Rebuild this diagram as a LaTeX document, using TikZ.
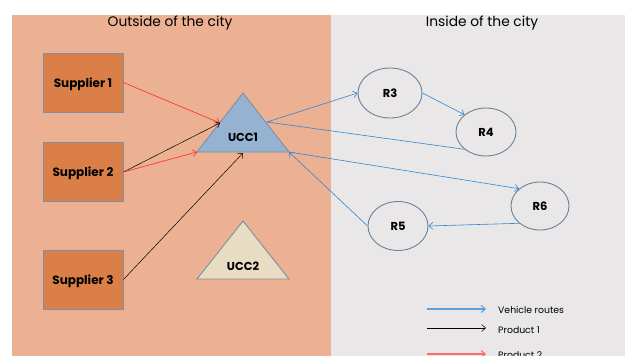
\documentclass[tikz,border=0pt]{standalone}
\usepackage{fontspec}
\setmainfont{Poppins}
\usetikzlibrary{shapes.geometric,arrows.meta}

\definecolor{outsidebg}{HTML}{EBB192}
\definecolor{insidebg}{HTML}{E9E7E8}
\definecolor{supplierfill}{HTML}{DA7F47}
\definecolor{edgegray}{HTML}{7890A8}
\definecolor{ucconefill}{HTML}{95B3D0}
\definecolor{ucctwofill}{HTML}{E8DCC3}
\definecolor{routeblue}{HTML}{2F87D2}
\definecolor{legendblue}{HTML}{5CA0DC}
\definecolor{prodred}{HTML}{FF2A2A}

\tikzset{
  supplier/.style={draw=edgegray, line width=0.9pt, fill=supplierfill,
    minimum width=80pt, minimum height=59pt, inner sep=0pt,
    font=\bfseries\fontsize{12}{14}\selectfont},
  retailer/.style={draw=edgegray!90!black, line width=0.9pt, ellipse, inner sep=0pt,
    font=\bfseries\fontsize{11.5}{13}\selectfont},
  centrebox/.style={draw=edgegray, line width=0.9pt},
  centrelabel/.style={font=\bfseries\fontsize{11.5}{13}\selectfont, inner sep=0pt},
  tip/.style={-{Straight Barb[length=4pt,width=7pt]}},
  route/.style={routeblue, line width=0.6pt},
  prodone/.style={black, line width=0.5pt},
  prodtwo/.style={prodred, line width=0.6pt},
  heading/.style={font=\fontsize{13.8}{16}\selectfont},
  legendtext/.style={font=\fontsize{9.3}{11}\selectfont, anchor=west, inner sep=0pt}
}

\begin{document}
\begin{tikzpicture}[x=1pt,y=-1pt]
  \useasboundingbox (0,0) rectangle (625,356);
  \clip (0,0) rectangle (625,356);

  % two zones
  \fill[outsidebg] (12,15) rectangle (331,360);
  \fill[insidebg] (331,15) rectangle (625,360);
  \node[heading] (outside) at (170,23.5) {Outside of the city};
  \node[heading] (inside) at (482,23.5) {Inside of the city};

  % suppliers
  \node[supplier, text depth=0pt] (s1) at (83,82.5) {Supplier 1};
  \node[supplier, text depth=0pt] (s2) at (83,172) {Supplier 2};
  \node[supplier, text depth=0pt] (s3) at (83,279.5) {Supplier 3};

  % consolidation centres
  \draw[centrebox, fill=ucconefill] (197,152) -- (243,93) -- (289,152) -- cycle;
  \node[centrelabel] (ucc1) at (243,137) {UCC1};
  \coordinate (ucc1left) at (220,123);
  \coordinate (ucc1right) at (267,122);
  \coordinate (ucc1bl) at (197,152);
  \coordinate (ucc1base) at (243,153);
  \coordinate (ucc1br) at (289,152);

  \draw[centrebox, fill=ucctwofill] (197,279) -- (243,221) -- (289,279) -- cycle;
  \node[centrelabel] (ucc2) at (243,266) {UCC2};

  % retailers
  \node[retailer, minimum width=64pt, minimum height=50pt] (r3) at (390,93) {R3};
  \node[retailer, minimum width=60pt, minimum height=48pt] (r4) at (486,132) {R4};
  \node[retailer, minimum width=58pt, minimum height=48pt] (r6) at (540,206) {R6};
  \node[retailer, minimum width=60pt, minimum height=49pt] (r5) at (398,226) {R5};

  % product flows
  \draw[prodtwo, tip] (s1.east) -- (ucc1left);
  \draw[prodone, tip] (s2.east) -- (ucc1left);
  \draw[prodtwo, tip] (s2.east) -- (ucc1bl);
  \draw[prodone, tip] (s3.east) -- (ucc1base);

  % vehicle routes
  \draw[route, tip] (ucc1right) -- (r3.west);
  \draw[route, tip] (r3.east) -- (r4.north west);
  \draw[route] (r4.south west) -- (ucc1right);
  \draw[route, tip] (ucc1br) -- (r6.north west);
  \draw[route, tip] (r6.south west) -- (r5.east);
  \draw[route, tip] (r5.west) -- (ucc1br);

  % legend
  \coordinate (la) at (427,309);
  \coordinate (lb) at (486,309);
  \coordinate (lc) at (427,328);
  \coordinate (ld) at (486,328);
  \coordinate (le) at (427,354);
  \coordinate (lf) at (486,354);
  \draw[legendblue, line width=1.1pt, tip] (la) -- (lb);
  \draw[prodone, tip] (lc) -- (ld);
  \draw[prodred!70, line width=1.1pt, tip] (le) -- (lf);
  \node[legendtext] (lgroutes) at (498,310.5) {Vehicle routes};
  \node[legendtext] (lgone) at (498,330.5) {Product 1};
  \node[legendtext] (lgtwo) at (498,355.5) {Product 2};
\end{tikzpicture}
\end{document}
